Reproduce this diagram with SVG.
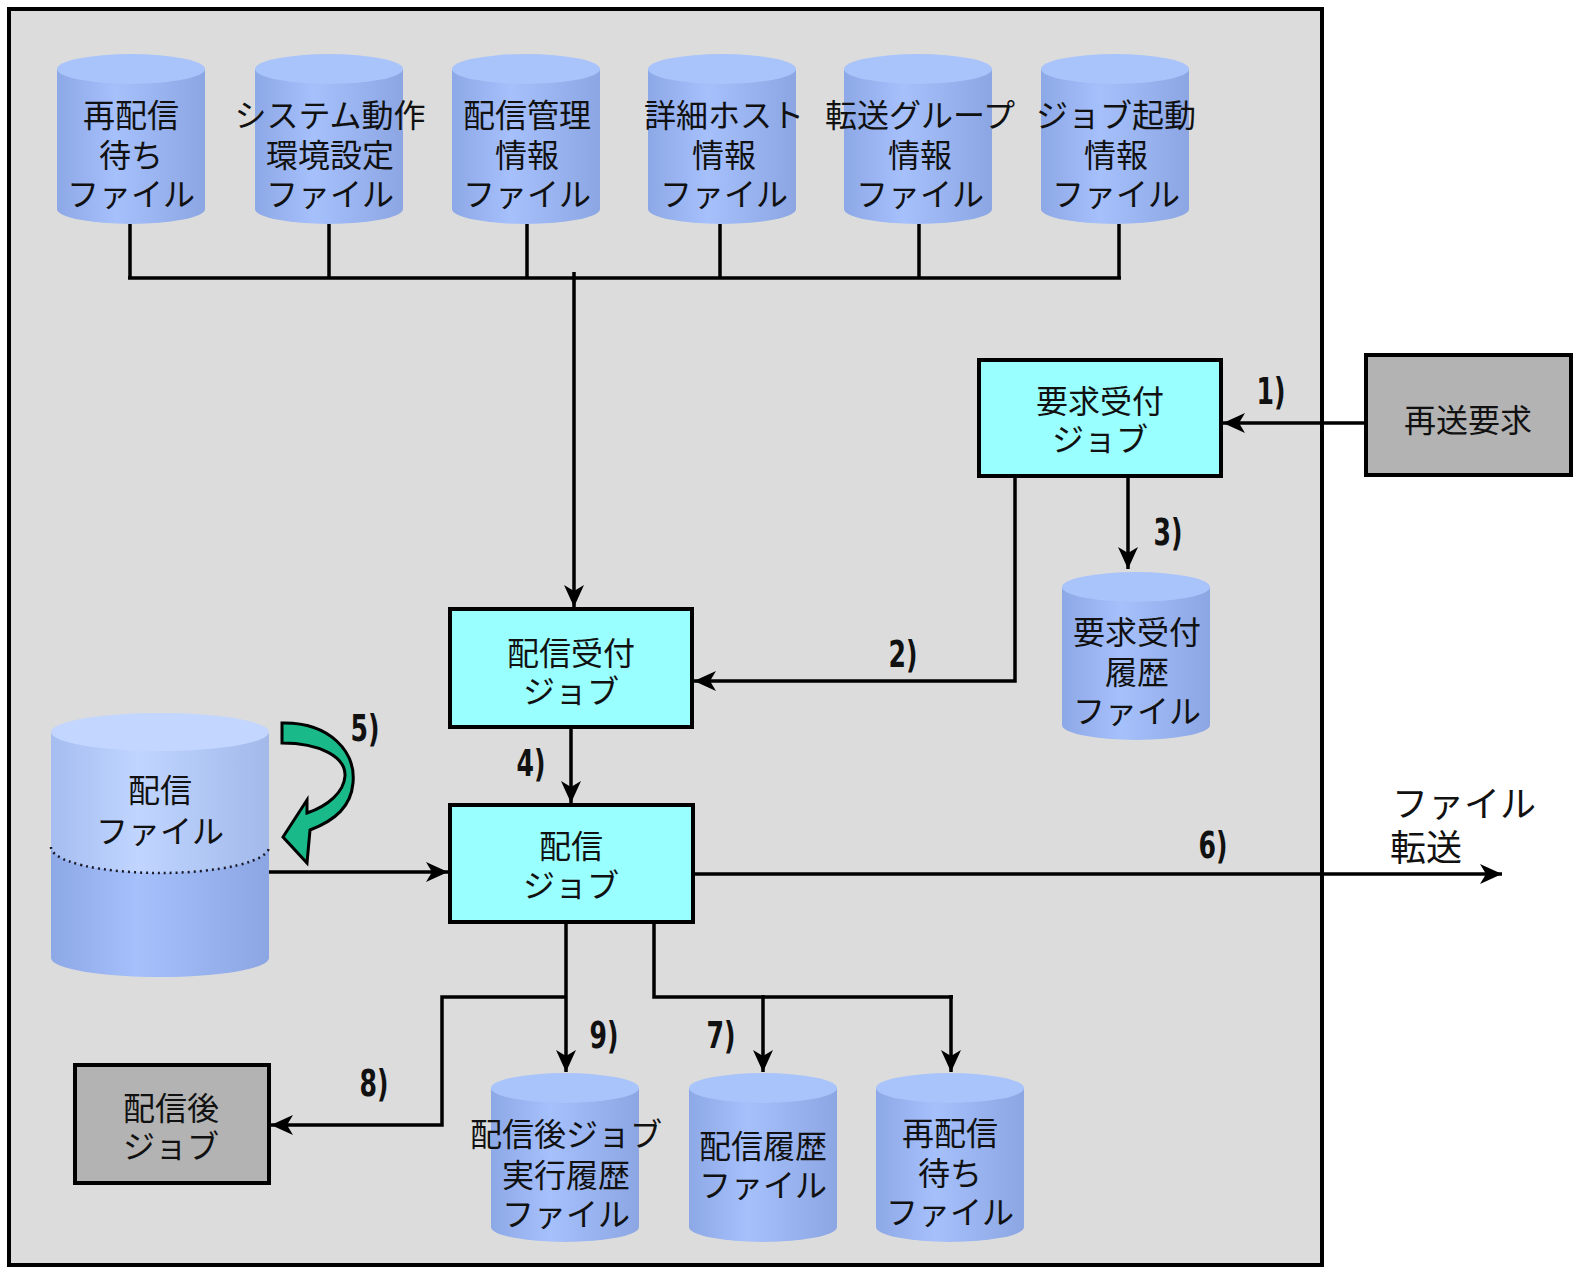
<svg xmlns="http://www.w3.org/2000/svg" width="1581" height="1276" viewBox="0 0 1581 1276">
<defs>
<style>
.t{font-family:"Noto Sans CJK JP","Noto Sans CJK SC",sans-serif;font-size:32px;fill:#111;text-anchor:middle}
.lbl{font-family:"Liberation Sans Narrow","DejaVu Sans Condensed","Liberation Sans",sans-serif;font-size:38px;font-weight:bold;fill:#111;text-anchor:middle}
.box{stroke:#000;stroke-width:4}
.job{fill:#99FFFF}
.ext{fill:#B3B3B3}
.cylb{fill:url(#cg)}
.cylt{fill:#A9C4FB}
.ln{fill:none;stroke:#000;stroke-width:3.5}
.ar{fill:none;stroke:#000;stroke-width:3.5;marker-end:url(#ah)}
</style>
<linearGradient id="cg" x1="0" y1="0" x2="1" y2="0">
<stop offset="0" stop-color="#8DA8E6"/>
<stop offset="0.4" stop-color="#A5C0FB"/>
<stop offset="1" stop-color="#8BA6E2"/>
</linearGradient>
<linearGradient id="cg2" x1="0" y1="0" x2="1" y2="0">
<stop offset="0" stop-color="#A5BDF0"/>
<stop offset="0.4" stop-color="#C0D5FF"/>
<stop offset="1" stop-color="#A2B9EA"/>
</linearGradient>
<marker id="ah" markerUnits="userSpaceOnUse" markerWidth="24" markerHeight="20" refX="22" refY="10" orient="auto">
<path d="M0,0 L22,10 L0,20 L6,10 Z" fill="#000"/>
</marker>
</defs>
<rect x="0" y="0" width="1581" height="1276" fill="#fff"/>
<rect id="frame" x="9" y="9" width="1313" height="1256" fill="#DCDCDC" stroke="#000" stroke-width="4"/>

<g id="connectors">
<path class="ln" d="M130,224 V278 M329,224 V278 M527,224 V278 M720,224 V278 M919,224 V278 M1119,224 V278 M128,278 H1121"/>
<path class="ar" d="M574,272 V607"/>
<path class="ar" d="M1366,423 H1223"/>
<path class="ar" d="M1015,476 V681 H694"/>
<path class="ar" d="M1128,476 V569"/>
<path class="ar" d="M571,727 V803"/>
<path class="ar" d="M269,872 H448"/>
<path class="ar" d="M693,874 H1502"/>
<path class="ar" d="M566,922 V1072"/>
<path class="ar" d="M566,997 H442 V1125 H271"/>
<path class="ln" d="M654,922 V997 H953"/>
<path class="ar" d="M763,995 V1072"/>
<path class="ar" d="M951,995 V1072"/>
</g>

<g id="c1">
<path class="cylb" d="M57,69 V209 A74,15 0 0 0 205,209 V69 Z"/>
<ellipse class="cylt" cx="131" cy="69" rx="74" ry="15"/>
<text class="t" y="127"><tspan x="131">再配信</tspan><tspan x="131" dy="40">待ち</tspan><tspan x="131" dy="39">ファイル</tspan></text>
</g>
<g id="c2">
<path class="cylb" d="M255,69 V209 A74,15 0 0 0 403,209 V69 Z"/>
<ellipse class="cylt" cx="329" cy="69" rx="74" ry="15"/>
<text class="t" y="127"><tspan x="330">システム動作</tspan><tspan x="330" dy="40">環境設定</tspan><tspan x="330" dy="39">ファイル</tspan></text>
</g>
<g id="c3">
<path class="cylb" d="M452,69 V209 A74,15 0 0 0 600,209 V69 Z"/>
<ellipse class="cylt" cx="526" cy="69" rx="74" ry="15"/>
<text class="t" y="127"><tspan x="527">配信管理</tspan><tspan x="527" dy="40">情報</tspan><tspan x="527" dy="39">ファイル</tspan></text>
</g>
<g id="c4">
<path class="cylb" d="M648,69 V209 A74,15 0 0 0 796,209 V69 Z"/>
<ellipse class="cylt" cx="722" cy="69" rx="74" ry="15"/>
<text class="t" y="127"><tspan x="724">詳細ホスト</tspan><tspan x="724" dy="40">情報</tspan><tspan x="724" dy="39">ファイル</tspan></text>
</g>
<g id="c5">
<path class="cylb" d="M844,69 V209 A74,15 0 0 0 992,209 V69 Z"/>
<ellipse class="cylt" cx="918" cy="69" rx="74" ry="15"/>
<text class="t" y="127"><tspan x="920">転送グループ</tspan><tspan x="920" dy="40">情報</tspan><tspan x="920" dy="39">ファイル</tspan></text>
</g>
<g id="c6">
<path class="cylb" d="M1041,69 V209 A74,15 0 0 0 1189,209 V69 Z"/>
<ellipse class="cylt" cx="1115" cy="69" rx="74" ry="15"/>
<text class="t" y="127"><tspan x="1116">ジョブ起動</tspan><tspan x="1116" dy="40">情報</tspan><tspan x="1116" dy="39">ファイル</tspan></text>
</g>

<g id="req-job">
<rect class="box job" x="979" y="360" width="242" height="116"/>
<text class="t" y="413"><tspan x="1100">要求受付</tspan><tspan x="1100" dy="38">ジョブ</tspan></text>
</g>
<g id="resend">
<rect class="box ext" x="1366" y="355" width="205" height="120"/>
<text class="t" x="1468" y="432">再送要求</text>
</g>
<g id="req-hist">
<path class="cylb" d="M1062,587 V725 A74,15 0 0 0 1210,725 V587 Z"/>
<ellipse class="cylt" cx="1136" cy="587" rx="74" ry="15"/>
<text class="t" y="644"><tspan x="1137">要求受付</tspan><tspan x="1137" dy="40">履歴</tspan><tspan x="1137" dy="39">ファイル</tspan></text>
</g>
<g id="dist-recv">
<rect class="box job" x="450" y="609" width="242" height="118"/>
<text class="t" y="665"><tspan x="571">配信受付</tspan><tspan x="571" dy="38">ジョブ</tspan></text>
</g>
<g id="dist-job">
<rect class="box job" x="450" y="805" width="243" height="117"/>
<text class="t" y="858"><tspan x="571">配信</tspan><tspan x="571" dy="39">ジョブ</tspan></text>
</g>
<g id="dist-file">
<path class="cylb" d="M51,732 V958 A109,19 0 0 0 269,958 V732 Z"/>
<path fill="url(#cg2)" d="M51,732 V847 A109,26 0 0 0 269,847 V732 Z"/>
<ellipse cx="160" cy="732" rx="109" ry="19" fill="#C3D6FF"/>
<path d="M51,847 A109,26 0 0 0 269,847" fill="none" stroke="#1a1a2a" stroke-width="2.5" stroke-dasharray="2 4"/>
<text class="t" y="802"><tspan x="160">配信</tspan><tspan x="160" dy="41">ファイル</tspan></text>
</g>
<g id="green-arrow">
<path d="M282,723 C330,722 356,752 353,783 C351,806 336,820 310,830 L307,863 L283,837 L307,800 L307,813 C328,806 344,792 345,776 C346,757 320,743 282,743 Z" fill="#19B98A" stroke="#000" stroke-width="3" stroke-linejoin="miter"/>
</g>
<g id="post-job">
<rect class="box ext" x="75" y="1065" width="194" height="118"/>
<text class="t" y="1120"><tspan x="171">配信後</tspan><tspan x="171" dy="38">ジョブ</tspan></text>
</g>
<g id="b1">
<path class="cylb" d="M491,1088 V1227 A74,15 0 0 0 639,1227 V1088 Z"/>
<ellipse class="cylt" cx="565" cy="1088" rx="74" ry="15"/>
<text class="t" y="1146"><tspan x="566">配信後ジョブ</tspan><tspan x="566" dy="41">実行履歴</tspan><tspan x="566" dy="39">ファイル</tspan></text>
</g>
<g id="b2">
<path class="cylb" d="M689,1088 V1227 A74,15 0 0 0 837,1227 V1088 Z"/>
<ellipse class="cylt" cx="763" cy="1088" rx="74" ry="15"/>
<text class="t" y="1158"><tspan x="763">配信履歴</tspan><tspan x="763" dy="39">ファイル</tspan></text>
</g>
<g id="b3">
<path class="cylb" d="M876,1088 V1227 A74,15 0 0 0 1024,1227 V1088 Z"/>
<ellipse class="cylt" cx="950" cy="1088" rx="74" ry="15"/>
<text class="t" y="1145"><tspan x="950">再配信</tspan><tspan x="950" dy="40">待ち</tspan><tspan x="950" dy="39">ファイル</tspan></text>
</g>

<g id="labels">
<text class="lbl" x="1271" y="404" textLength="29" lengthAdjust="spacingAndGlyphs">1)</text>
<text class="lbl" x="903" y="667" textLength="29" lengthAdjust="spacingAndGlyphs">2)</text>
<text class="lbl" x="1168" y="545" textLength="29" lengthAdjust="spacingAndGlyphs">3)</text>
<text class="lbl" x="531" y="776" textLength="29" lengthAdjust="spacingAndGlyphs">4)</text>
<text class="lbl" x="365" y="741" textLength="29" lengthAdjust="spacingAndGlyphs">5)</text>
<text class="lbl" x="1213" y="858" textLength="29" lengthAdjust="spacingAndGlyphs">6)</text>
<text class="lbl" x="721" y="1048" textLength="29" lengthAdjust="spacingAndGlyphs">7)</text>
<text class="lbl" x="374" y="1096" textLength="29" lengthAdjust="spacingAndGlyphs">8)</text>
<text class="lbl" x="604" y="1048" textLength="29" lengthAdjust="spacingAndGlyphs">9)</text>
<text class="t" y="817" style="font-size:36px;text-anchor:start"><tspan x="1392">ファイル</tspan><tspan x="1390" dy="44">転送</tspan></text>
</g>
</svg>
